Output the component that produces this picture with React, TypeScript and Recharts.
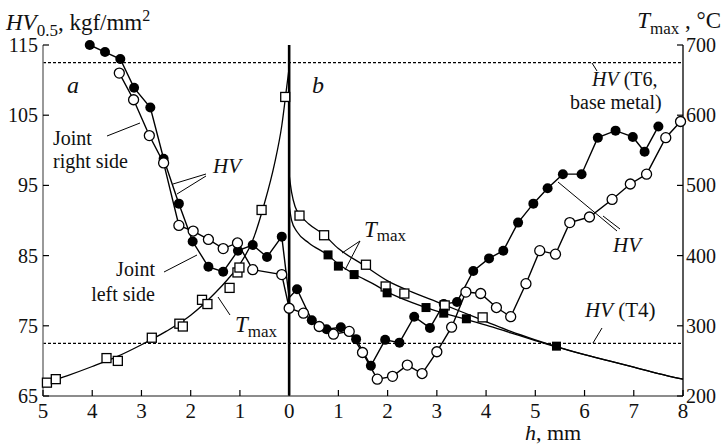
import React from 'react'
import {
  ComposedChart,
  Line,
  Scatter,
  XAxis,
  YAxis,
  ReferenceLine,
} from 'recharts'

// h, mm: negative = part a (plotted leftwards), positive = part b
const hvFilledH = [-4.05, -3.74, -3.43, -3.15, -2.82, -2.55, -2.24, -1.96, -1.64, -1.34, -1.04, -0.74, -0.45, -0.15, 0,
  0.16, 0.46, 0.76, 1.05, 1.36, 1.66, 1.95, 2.24, 2.54, 2.86, 3.14, 3.41, 3.74, 4.06, 4.35, 4.65, 4.96, 5.25, 5.56, 5.94,
  6.27, 6.63, 6.98, 7.22, 7.5]
const hvFilled = [115, 114, 113, 108.9, 106.1, 98.8, 92.4, 87, 83.4, 82.7, 85.7, 86.5, 84.8, 87.7, 79,
  80.2, 75.8, 74.5, 74.8, 73.1, 69.3, 73, 72.6, 76.3, 74.7, 78.1, 78.4, 82.8, 84.6, 85.7, 89.7, 92.4, 94.6, 96.6, 96.6,
  101.8, 102.8, 101.9, 99.8, 103.4]

const hvOpenH = [-3.45, -3.16, -2.84, -2.55, -2.24, -1.95, -1.64, -1.34, -1.05, -0.74, -0.15, 0,
  0.29, 0.61, 0.9, 1.22, 1.49, 1.79, 2.1, 2.4, 2.7, 3.0, 3.3, 3.59, 3.89, 4.21, 4.5, 4.81, 5.09, 5.41, 5.7, 6.1, 6.56,
  6.93, 7.26, 7.65, 7.95]
const hvOpen = [111, 107.2, 102.1, 98.2, 89.3, 88.5, 87.3, 86, 86.8, 83, 82.3, 77.5,
  76.8, 74.9, 73.8, 74.2, 71.2, 67.4, 67.8, 69.4, 68.2, 71.3, 74.8, 79.8, 79.6, 77.6, 76.3, 81, 85.7, 85.2, 89.7, 90.5, 93,
  95.2, 96.6, 101.8, 104.1]

// Tmax measurements, °C
const tOpenH = [-4.92, -4.74, -3.71, -3.48, -2.79, -2.23, -2.16, -1.77, -1.66, -1.21, -1.05, -1.01, -0.56, -0.08,
  0.21, 0.71, 1.56, 1.96, 2.34, 3.16, 3.93]
const tOpen = [219, 224, 254, 250, 283, 303, 299, 337, 331, 354, 376, 383, 465, 626,
  457, 429, 387, 356, 346, 329, 312]
const tFilledH = [0.79, 1.0, 1.32, 1.99, 2.78, 3.14, 3.6, 5.43]
const tFilled = [401, 385, 373, 347, 326, 318, 310, 271]

// fitted Tmax curves
const curveAH = [-5, -4.5, -4, -3.5, -3, -2.5, -2, -1.5, -1.25, -1, -0.75, -0.5, -0.3, -0.15, -0.05, 0]
const curveA = [217, 229, 242, 256, 273, 292, 315, 347, 366, 388, 420, 475, 530, 585, 640, 668]
const curveB1H = [0, 0.05, 0.12, 0.22, 0.4, 0.7, 1, 1.5, 2, 2.5, 3, 3.5, 4, 4.5, 5, 5.5, 6, 6.5, 7, 7.5, 8]
const curveB1 = [515, 490, 470, 458, 445, 430, 410, 387, 364, 348, 334, 320, 306, 292, 280, 269, 259, 250, 241, 232, 224]
const curveB2H = [0, 0.05, 0.16, 0.4, 0.78, 1, 1.34, 1.7, 2, 2.5, 2.78, 3.14, 3.6, 4, 4.5, 5, 5.43, 6, 6.5, 7, 7.5, 8]
const curveB2 = [472, 450, 434, 418, 401, 388, 373, 360, 348, 333, 326, 318, 309, 301, 290, 279, 270, 259, 250, 241, 232, 224]

const hTicks = [-5, -4, -3, -2, -1, 0, 1, 2, 3, 4, 5, 6, 7, 8]
const hvTicks = [65, 75, 85, 95, 105, 115]
const tTicks = [200, 300, 400, 500, 600, 700]
const hvT6 = 112.5
const hvT4 = 72.5

const zip = (xs: number[], ys: number[], key: string) => xs.map((h, i) => ({ h, [key]: ys[i] }))

const txt = { fontFamily: "'Liberation Serif'" }

function BottomTick(p: any) {
  const v = p.payload.value
  return (
    <g>
      <line x1={p.x} x2={p.x} y1={p.y} y2={p.y - 6} stroke="#000" strokeWidth={1.2} />
      <text x={p.x} y={p.y + 22} textAnchor="middle" fontSize={21} style={txt} fill="#111">{Math.abs(v)}</text>
    </g>
  )
}

function TopTick(p: any) {
  return <line x1={p.x} x2={p.x} y1={p.y} y2={p.y + 6} stroke="#000" strokeWidth={1.2} />
}

function LeftTick(p: any) {
  return (
    <g>
      <line x1={p.x} x2={p.x + 6} y1={p.y} y2={p.y} stroke="#000" strokeWidth={1.2} />
      <text x={p.x - 5} y={p.y + 7} textAnchor="end" fontSize={20} style={txt} fill="#111">{p.payload.value}</text>
    </g>
  )
}

function RightTick(p: any) {
  return (
    <g>
      <line x1={p.x} x2={p.x - 6} y1={p.y} y2={p.y} stroke="#000" strokeWidth={1.2} />
      <text x={p.x + 3} y={p.y + 7} textAnchor="start" fontSize={20} style={txt} fill="#111">{p.payload.value}</text>
    </g>
  )
}

const filledDot = (p: any) =>
  p.payload.h === 0 ? <g key={p.index} /> : <circle key={p.index} cx={p.cx} cy={p.cy} r={5} fill="#000" />
const openDot = (p: any) => <circle key={p.index} cx={p.cx} cy={p.cy} r={5} fill="#fff" stroke="#000" strokeWidth={1.3} />
const openSquare = (p: any) => (
  <rect x={p.cx - 4.5} y={p.cy - 4.5} width={9} height={9} fill="#fff" stroke="#000" strokeWidth={1.3} />
)
const filledSquare = (p: any) => <rect x={p.cx - 4.5} y={p.cy - 4.5} width={9} height={9} fill="#000" />

function Annotations() {
  const t = { style: txt, fill: '#111' }
  const ln = { stroke: '#000', strokeWidth: 1 }
  return (
    <svg width={723} height={445} style={{ position: 'absolute', left: 0, top: 0, pointerEvents: 'none' }}>
      <text x={6} y={30} fontSize={23} {...t}>
        <tspan fontStyle="italic">HV</tspan>
        <tspan fontSize={17} dy={6}>0.5</tspan>
        <tspan dy={-6}>, kgf/mm</tspan>
        <tspan fontSize={16} dy={-9}>2</tspan>
      </text>
      <text x={721} y={28} fontSize={23} textAnchor="end" {...t}>
        <tspan fontStyle="italic">T</tspan>
        <tspan fontSize={17} dy={6}>max</tspan>
        <tspan dy={-6}> , °C</tspan>
      </text>

      <text x={67} y={93} fontSize={24} fontStyle="italic" {...t}>a</text>
      <text x={312} y={93} fontSize={24} fontStyle="italic" {...t}>b</text>

      <text x={53} y={145} fontSize={20} {...t}>Joint</text>
      <text x={53} y={168} fontSize={20} {...t}>right side</text>
      <line x1={107} y1={136} x2={140} y2={123} {...ln} />

      <text x={213} y={173} fontSize={21} fontStyle="italic" {...t}>HV</text>
      <line x1={206} y1={174} x2={173} y2={184} {...ln} />
      <line x1={206} y1={176} x2={177} y2={194} {...ln} />

      <text x={155} y={276} fontSize={20} textAnchor="end" {...t}>Joint</text>
      <text x={155} y={301} fontSize={20} textAnchor="end" {...t}>left side</text>
      <line x1={164} y1={272} x2={197} y2={255} {...ln} />

      <text x={235} y={332} fontSize={23} {...t}>
        <tspan fontStyle="italic">T</tspan>
        <tspan fontSize={17} dy={5}>max</tspan>
      </text>
      <line x1={230} y1={315} x2={218} y2={297} {...ln} />

      <text x={364} y={237} fontSize={23} {...t}>
        <tspan fontStyle="italic">T</tspan>
        <tspan fontSize={17} dy={4}>max</tspan>
      </text>
      <line x1={360} y1={241} x2={342} y2={253} {...ln} />
      <line x1={360} y1={241} x2={345} y2={270} {...ln} />

      <text x={592} y={86} fontSize={20} {...t}>
        <tspan fontStyle="italic">HV</tspan> (T6,
      </text>
      <text x={570} y={109} fontSize={20} {...t}>base metal)</text>
      <line x1={597} y1={71} x2={592} y2={63} {...ln} />

      <text x={613} y={252} fontSize={21} fontStyle="italic" {...t}>HV</text>
      <line x1={558} y1={182} x2={617} y2={231} {...ln} />
      <line x1={603} y1={216} x2={620} y2={229} {...ln} />

      <text x={585} y={317} fontSize={21} {...t}>
        <tspan fontStyle="italic">HV</tspan> (T4)
      </text>
      <line x1={602} y1={328} x2={593} y2={343} {...ln} />

      <text x={525} y={440} fontSize={22} {...t}>
        <tspan fontStyle="italic">h</tspan>, mm
      </text>
    </svg>
  )
}

export default function App() {
  return (
    <div style={{ position: 'absolute', left: 0, top: 0, width: 723, height: 445, background: '#fff' }}>
      <ComposedChart width={723} height={445} margin={{ top: 45, right: 5, bottom: 19, left: 8 }}>
        <XAxis
          xAxisId="b"
          dataKey="h"
          type="number"
          domain={[-5, 8]}
          ticks={hTicks}
          height={30}
          tickSize={0}
          tickMargin={0}
          tick={BottomTick}
          axisLine={{ stroke: '#666', strokeWidth: 1.5 }}
        />
        <XAxis
          xAxisId="top"
          dataKey="h"
          type="number"
          orientation="top"
          domain={[-5, 8]}
          ticks={hTicks}
          height={0}
          tickSize={0}
          tickMargin={0}
          tick={TopTick}
          axisLine={{ stroke: '#000', strokeWidth: 1.3 }}
        />
        <YAxis
          yAxisId="hv"
          domain={[65, 115]}
          ticks={hvTicks}
          width={35}
          tickSize={0}
          tickMargin={0}
          tick={LeftTick}
          axisLine={{ stroke: '#777', strokeWidth: 1.5 }}
        />
        <YAxis
          yAxisId="t"
          orientation="right"
          domain={[200, 700]}
          ticks={tTicks}
          width={35}
          tickSize={0}
          tickMargin={0}
          tick={RightTick}
          axisLine={{ stroke: '#000', strokeWidth: 1.3 }}
        />

        <ReferenceLine xAxisId="b" yAxisId="hv" y={hvT6} stroke="#000" strokeWidth={1.2} strokeDasharray="3 2" />
        <ReferenceLine xAxisId="b" yAxisId="hv" y={hvT4} stroke="#000" strokeWidth={1.2} strokeDasharray="3 2" />
        <ReferenceLine xAxisId="b" yAxisId="hv" x={0} stroke="#000" strokeWidth={2.6} />

        <Line xAxisId="b" yAxisId="t" data={zip(curveAH, curveA, 't')} dataKey="t" type="monotone" stroke="#000" strokeWidth={1.3} dot={false} isAnimationActive={false} />
        <Line xAxisId="b" yAxisId="t" data={zip(curveB1H, curveB1, 't')} dataKey="t" type="monotone" stroke="#000" strokeWidth={1.3} dot={false} isAnimationActive={false} />
        <Line xAxisId="b" yAxisId="t" data={zip(curveB2H, curveB2, 't')} dataKey="t" type="monotone" stroke="#000" strokeWidth={1.3} dot={false} isAnimationActive={false} />

        <Line xAxisId="b" yAxisId="hv" data={zip(hvFilledH, hvFilled, 'hv')} dataKey="hv" type="linear" stroke="#000" strokeWidth={1.4} dot={filledDot} activeDot={false} isAnimationActive={false} />
        <Line xAxisId="b" yAxisId="hv" data={zip(hvOpenH, hvOpen, 'hv')} dataKey="hv" type="linear" stroke="#000" strokeWidth={1.4} dot={openDot} activeDot={false} isAnimationActive={false} />

        <Scatter xAxisId="b" yAxisId="t" data={zip(tOpenH, tOpen, 't')} dataKey="t" shape={openSquare} isAnimationActive={false} />
        <Scatter xAxisId="b" yAxisId="t" data={zip(tFilledH, tFilled, 't')} dataKey="t" shape={filledSquare} isAnimationActive={false} />
      </ComposedChart>
      <Annotations />
    </div>
  )
}
